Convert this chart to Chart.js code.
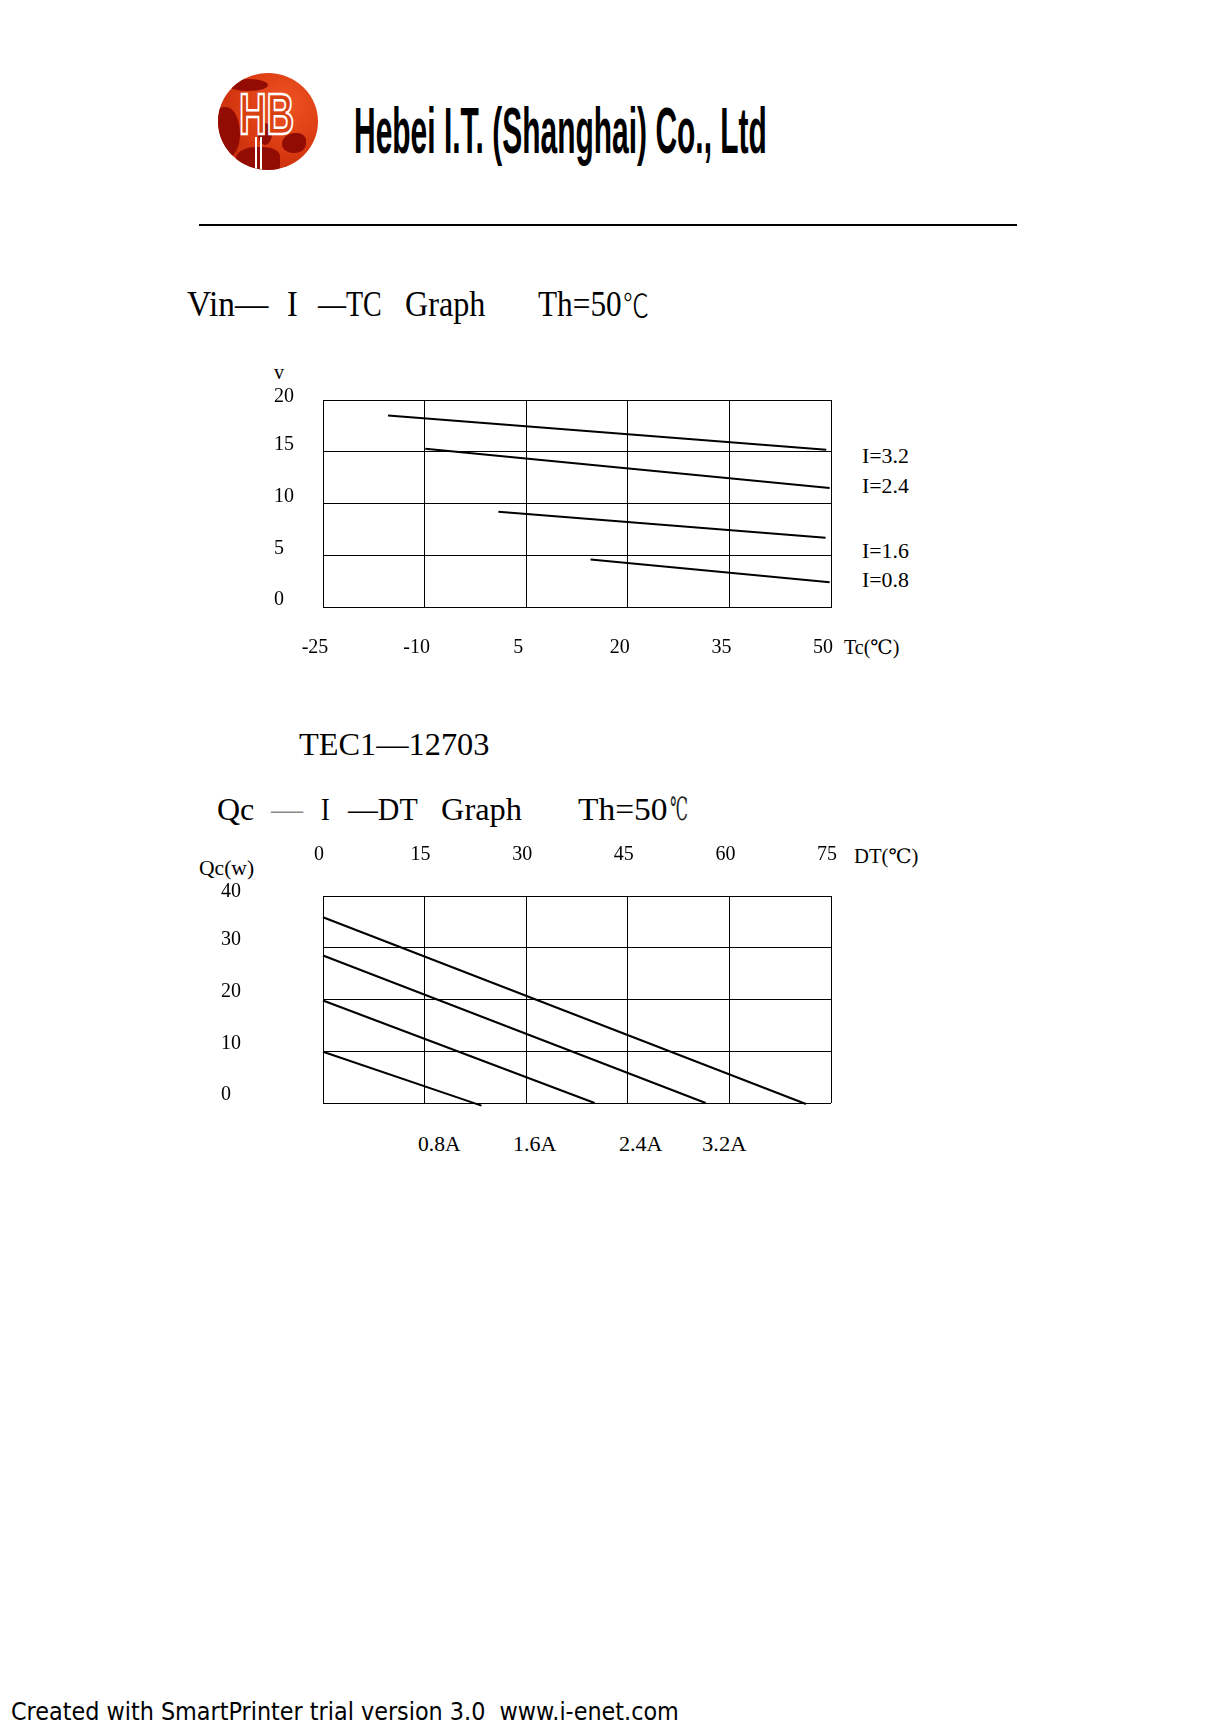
<!DOCTYPE html>
<html>
<head>
<meta charset="utf-8">
<script src="https://cdn.jsdelivr.net/npm/chart.js@4.4.1/dist/chart.umd.min.js"></script>
<style>
  body { margin: 0; background: #fff; width: 1220px; height: 1726px; position: relative; overflow: hidden; }
  .t { position: absolute; white-space: nowrap; color: #000; line-height: 1; transform-origin: 0 50%; }
  .serif { font-family: "Liberation Serif", "DejaVu Serif", serif; }
  .cjk { font-family: "Noto Sans CJK SC", sans-serif; font-weight: 300; }
  canvas { position: absolute; }
  #logo { position: absolute; left: 218px; top: 73px; width: 100px; height: 97px; border-radius: 50%; overflow: hidden;
          background: radial-gradient(circle at 68% 32%, #ee5424 0%, #dc3c12 45%, #b82608 100%); }
  #logo .blob { position: absolute; background: #930c04; }
  #logo .hb { position: absolute; left: 21px; top: 13px; font: bold 57px "Liberation Sans", Arial, sans-serif; line-height: 1;
              color: #d8400f; -webkit-text-stroke: 2.5px #fff; transform: scaleX(0.67); transform-origin: 0 0; }
  #logo .stem { position: absolute; left: 37px; top: 64px; width: 3px; height: 34px; border-left: 2px solid #fff; border-right: 2px solid #fff; }
  #rule { position: absolute; left: 199px; top: 224px; width: 818px; height: 2px; background: #000; }
</style>
</head>
<body>

<div id="logo">
  <div class="blob" style="left:-4px;top:34px;width:26px;height:50px;border-radius:40% 60% 50% 40%"></div>
  <div class="blob" style="left:18px;top:74px;width:44px;height:26px;border-radius:50% 40% 30% 60%"></div>
  <div class="blob" style="left:10px;top:6px;width:40px;height:12px;border-radius:50%"></div>
  <div class="blob" style="left:64px;top:60px;width:24px;height:20px;border-radius:60% 40% 50% 50%"></div>
  <div class="blob" style="left:40px;top:50px;width:14px;height:22px;border-radius:50%"></div>
  <div class="hb">HB</div>
  <div class="stem"></div>
</div>
<div class="t fit" data-cy="131" data-w="413" style="left:354px;font:bold 64px 'Liberation Sans', Arial, sans-serif">Hebei I.T. (Shanghai) Co., Ltd</div>
<div id="rule"></div>

<!-- Vin - I - TC -->
<div class="t serif fit" data-cy="304" data-w="81" style="left:187px;font-size:35px">Vin—</div>
<div class="t serif fit" data-cy="304" data-w="11" style="left:287px;font-size:35px">I</div>
<div class="t serif fit" data-cy="304" data-w="64" style="left:318px;font-size:35px">—TC</div>
<div class="t serif fit" data-cy="304" data-w="80" style="left:405px;font-size:35px">Graph</div>
<div class="t serif fit" data-cy="304" data-w="84" style="left:538px;font-size:35px">Th=50</div>
<div class="t cjk fit" data-cy="303" data-w="26" style="left:623px;font-size:32px">℃</div>
<div class="t serif" data-cy="372" style="left:274px;font-size:20px">v</div>
<div class="t serif fit" data-cy="647" data-w="55" style="left:844px;font-size:20px">Tc(℃)</div>
<div class="t serif fit" data-cy="456" data-w="47" style="left:862px;font-size:20px">I=3.2</div>
<div class="t serif fit" data-cy="486" data-w="47" style="left:862px;font-size:20px">I=2.4</div>
<div class="t serif fit" data-cy="551" data-w="47" style="left:862px;font-size:20px">I=1.6</div>
<div class="t serif fit" data-cy="580" data-w="47" style="left:862px;font-size:20px">I=0.8</div>

<!-- Qc - I - DT -->
<div class="t serif fit" data-cy="744" data-w="190" style="left:299px;font-size:32px">TEC1—12703</div>
<div class="t serif fit" data-cy="809" data-w="37" style="left:217px;font-size:32px">Qc</div>
<div class="t serif fit" data-cy="809" data-w="32" style="left:271px;font-size:32px;color:#8a8a8a">—</div>
<div class="t serif fit" data-cy="809" data-w="9" style="left:321px;font-size:32px">I</div>
<div class="t serif fit" data-cy="809" data-w="70" style="left:348px;font-size:32px">—DT</div>
<div class="t serif fit" data-cy="809" data-w="81" style="left:441px;font-size:32px">Graph</div>
<div class="t serif fit" data-cy="809" data-w="90" style="left:578px;font-size:32px">Th=50</div>
<div class="t serif fit" data-cy="809" data-w="18" style="left:670px;font-size:32px;color:#222">℃</div>
<div class="t serif fit" data-cy="868" data-w="55" style="left:199px;font-size:20px">Qc(w)</div>
<div class="t serif fit" data-cy="856" data-w="64" style="left:854px;font-size:20px">DT(℃)</div>
<div class="t serif fit" data-cy="1144" data-w="42" style="left:418px;font-size:20px">0.8A</div>
<div class="t serif fit" data-cy="1144" data-w="43" style="left:513px;font-size:20px">1.6A</div>
<div class="t serif fit" data-cy="1144" data-w="43" style="left:619px;font-size:20px">2.4A</div>
<div class="t serif fit" data-cy="1144" data-w="44" style="left:702px;font-size:20px">3.2A</div>

<div class="t fit" data-cy="1712" data-w="668" style="left:11px;font:24px 'DejaVu Sans', Verdana, sans-serif">Created with SmartPrinter trial version 3.0&nbsp; www.i-enet.com</div>

<canvas id="vinChart" width="720" height="340" style="left:200px;top:340px"></canvas>
<canvas id="qcChart" width="720" height="320" style="left:200px;top:820px"></canvas>

<script>
// Vin - I - Tc, Th = 50℃
const tcTicks = [-25, -10, 5, 20, 35, 50];
const vTicks = [0, 5, 10, 15, 20];
const vinSeries = ['I=3.2', 'I=2.4', 'I=1.6', 'I=0.8'];
const vinTcFrom = [-15.4, -9.9, 0.9, 14.5];
const vinVFrom = [18.5, 15.3, 9.2, 4.6];
const vinTcTo = [49.3, 49.8, 49.2, 49.8];
const vinVTo = [15.2, 11.5, 6.7, 2.4];

// Qc - I - DT, Th = 50℃
const dtTicks = [0, 15, 30, 45, 60, 75];
const qcTicks = [0, 10, 20, 30, 40];
const qcSeries = ['3.2A', '2.4A', '1.6A', '0.8A'];
const qcAtZeroDt = [35.9, 28.5, 19.8, 9.9];
const dtAtEnd = [71.3, 56.5, 40.1, 23.4];
const qcAtEnd = [-0.2, 0, 0, -0.5];

// подгонка ширины и вертикального положения надписей
document.querySelectorAll('.t').forEach((el) => {
  if (el.dataset.w) {
    el.style.transform = 'scaleX(' + (el.dataset.w / el.offsetWidth) + ')';
  }
  el.style.top = (el.dataset.cy - el.offsetHeight / 2) + 'px';
});

const tickFont = { family: 'Liberation Serif', size: 20 };

function axis(min, max, ticks, opts) {
  return {
    type: 'linear',
    min: min,
    max: max,
    position: opts.position,
    afterBuildTicks: (s) => { s.ticks = ticks.map((v) => ({ value: v })); },
    afterFit: (s) => {
      if (opts.position === 'left') s.width = opts.size;
      else s.height = opts.size;
      s.paddingTop = s.paddingBottom = s.paddingLeft = s.paddingRight = 0;
    },
    grid: { color: '#000', lineWidth: 1, drawTicks: false },
    border: { display: true, color: '#000', width: 1 },
    ticks: {
      color: '#000',
      font: tickFont,
      padding: opts.padding,
      labelOffset: opts.labelOffset,
      crossAlign: opts.crossAlign || 'near',
      maxRotation: 0,
      autoSkip: false,
    },
  };
}

// верхняя подпись оси Y в оригинале стоит ближе к линии сетки
const topLabelNudge = {
  id: 'topLabelNudge',
  beforeDraw(chart) {
    const items = chart.scales.y.getLabelItems();
    const top = items[items.length - 1];
    if (top && !top.nudged) {
      top.options.translation[1] += 4;
      top.nudged = true;
    }
  },
};

function lineSet(label, x1, y1, x2, y2) {
  return {
    label: label,
    data: [{ x: x1, y: y1 }, { x: x2, y: y2 }],
    borderColor: '#000',
    borderWidth: 2,
    pointRadius: 0,
    fill: false,
    tension: 0,
    clip: false,
  };
}

const baseOptions = {
  responsive: false,
  animation: false,
  devicePixelRatio: 1,
  events: [],
  plugins: { legend: { display: false }, tooltip: { enabled: false }, title: { display: false } },
};

new Chart(document.getElementById('vinChart'), {
  type: 'line',
  data: {
    datasets: vinSeries.map((name, i) => lineSet(name, vinTcFrom[i], vinVFrom[i], vinTcTo[i], vinVTo[i])),
  },
  options: Object.assign({}, baseOptions, {
    layout: { padding: { left: 74, right: 89, top: 60, bottom: 13 } },
    scales: {
      x: axis(-25, 50, tcTicks, { position: 'bottom', size: 60, padding: 29, labelOffset: -8 }),
      y: axis(0, 20, vTicks, { position: 'left', size: 49, padding: 0, labelOffset: -7, crossAlign: 'far' }),
    },
  }),
  plugins: [topLabelNudge],
});

new Chart(document.getElementById('qcChart'), {
  type: 'line',
  data: {
    datasets: qcSeries.map((name, i) => lineSet(name, 0, qcAtZeroDt[i], dtAtEnd[i], qcAtEnd[i])),
  },
  options: Object.assign({}, baseOptions, {
    layout: { padding: { left: 21, right: 89, top: 16, bottom: 37 } },
    scales: {
      x: axis(0, 75, dtTicks, { position: 'top', size: 60, padding: 29, labelOffset: -4 }),
      y: axis(0, 40, qcTicks, { position: 'left', size: 102, padding: 0, labelOffset: -8, crossAlign: 'far' }),
    },
  }),
  plugins: [topLabelNudge],
});
</script>
</body>
</html>
